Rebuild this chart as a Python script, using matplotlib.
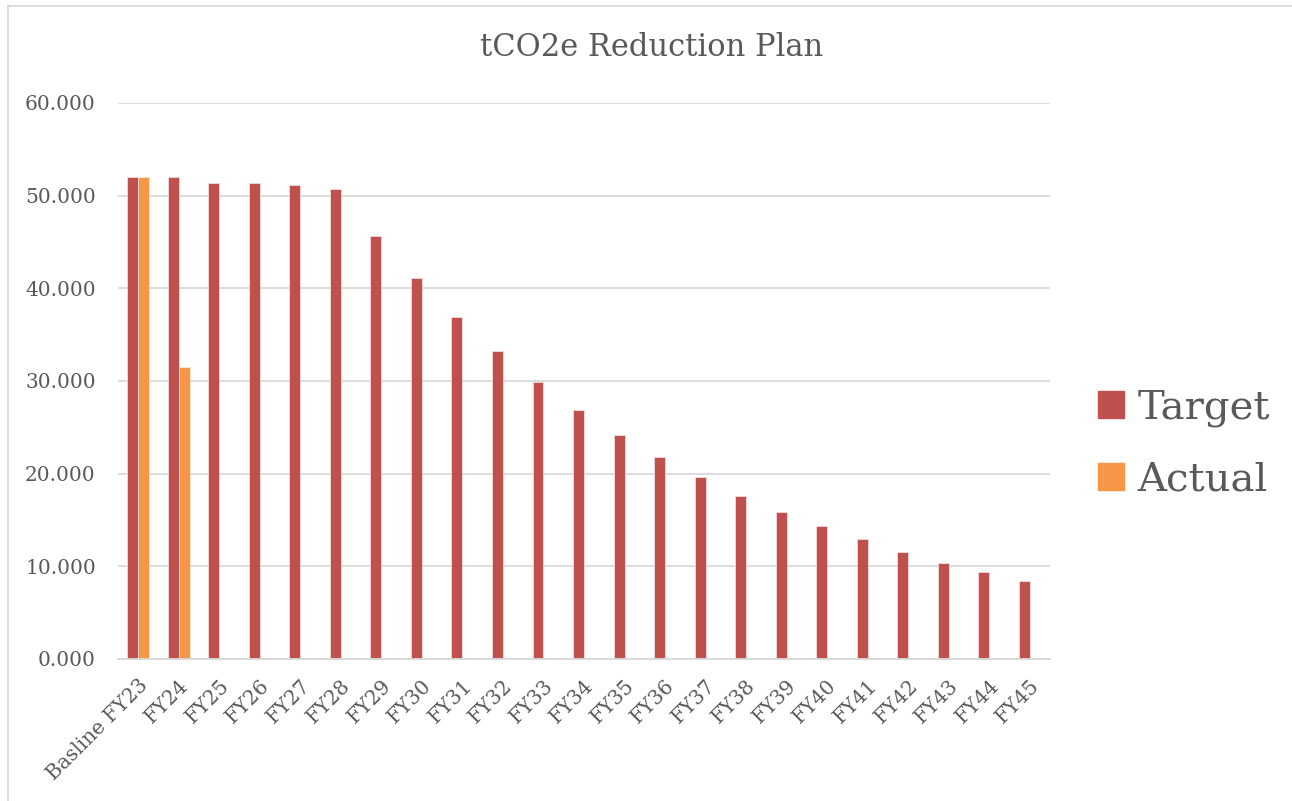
import numpy as np
import matplotlib
matplotlib.use("Agg")
import matplotlib.pyplot as plt
from matplotlib.lines import Line2D
from matplotlib.patches import Patch

plt.rcParams['font.family'] = ['DejaVu Serif', 'Liberation Serif']

# data
categories = ["Basline FY23", "FY24", "FY25", "FY26", "FY27", "FY28", "FY29", "FY30",
              "FY31", "FY32", "FY33", "FY34", "FY35", "FY36", "FY37", "FY38",
              "FY39", "FY40", "FY41", "FY42", "FY43", "FY44", "FY45"]
target = [52.05, 52.05, 51.33, 51.33, 51.11, 50.72, 45.65, 41.08,
          36.94, 33.24, 29.9, 26.9, 24.2, 21.8, 19.6, 17.6,
          15.9, 14.3, 12.9, 11.6, 10.4, 9.4, 8.4]
actual = [52.05, 31.48] + [np.nan] * 21

RED = "#C0504D"
ORANGE = "#F79646"
GRID = "#D9D9D9"
TXT = "#595959"

W, H = 1292, 801
fig = plt.figure(figsize=(W / 100, H / 100), dpi=100)
ax = fig.add_axes([118 / W, 1 - 659 / H, (1050 - 118) / W, (659 - 103) / H])

x = np.arange(len(categories))
bw = 0.27
ax.bar(x - bw / 2, target, bw, color=RED, edgecolor="#F2DCDB", linewidth=0.6, label="Target")
ax.bar(x + bw / 2, actual, bw, color=ORANGE, edgecolor="#FDE9D9", linewidth=0.6, label="Actual")

ax.set_xlim(-0.5, len(categories) - 0.5)
ax.set_ylim(0, 60)
ax.set_yticks(np.arange(0, 61, 10))
ax.set_yticklabels([f"{v:.3f}" for v in np.arange(0, 61, 10)], fontsize=14.5, color=TXT)
ax.set_xticks(x)
ax.set_xticklabels(categories, rotation=45, ha="right", rotation_mode="anchor",
                   fontsize=14.5, color=TXT)
ax.tick_params(axis="x", length=0, pad=12)
ax.tick_params(axis="y", length=0, pad=16)
ax.yaxis.grid(True, color=GRID, linewidth=1.3)
ax.set_axisbelow(True)
for s in ["top", "right", "left"]:
    ax.spines[s].set_visible(False)
ax.spines["bottom"].set_color(GRID)
ax.spines["bottom"].set_linewidth(1.3)

fig.text(652 / W, 1 - 48 / H, "tCO2e Reduction Plan", ha="center", va="center",
         fontsize=22, color=TXT)

handles = [Patch(facecolor=RED, edgecolor=RED), Patch(facecolor=ORANGE, edgecolor=ORANGE)]
leg = fig.legend(handles, ["Target", "Actual"], loc="center left",
                 bbox_to_anchor=(1062 / W, 1 - 444 / H), frameon=False,
                 fontsize=29, labelcolor=TXT, handlelength=0.65, handleheight=0.65,
                 handletextpad=0.33, labelspacing=0.85)

# chart border (left and top edges visible in the reference)
fig.add_artist(Line2D([8 / W, 8 / W], [0, 1 - 6 / H], color=GRID, linewidth=1.3))
fig.add_artist(Line2D([8 / W, 1], [1 - 6 / H, 1 - 6 / H], color=GRID, linewidth=1.3))

fig.savefig("out.png", dpi=100, facecolor="white")
